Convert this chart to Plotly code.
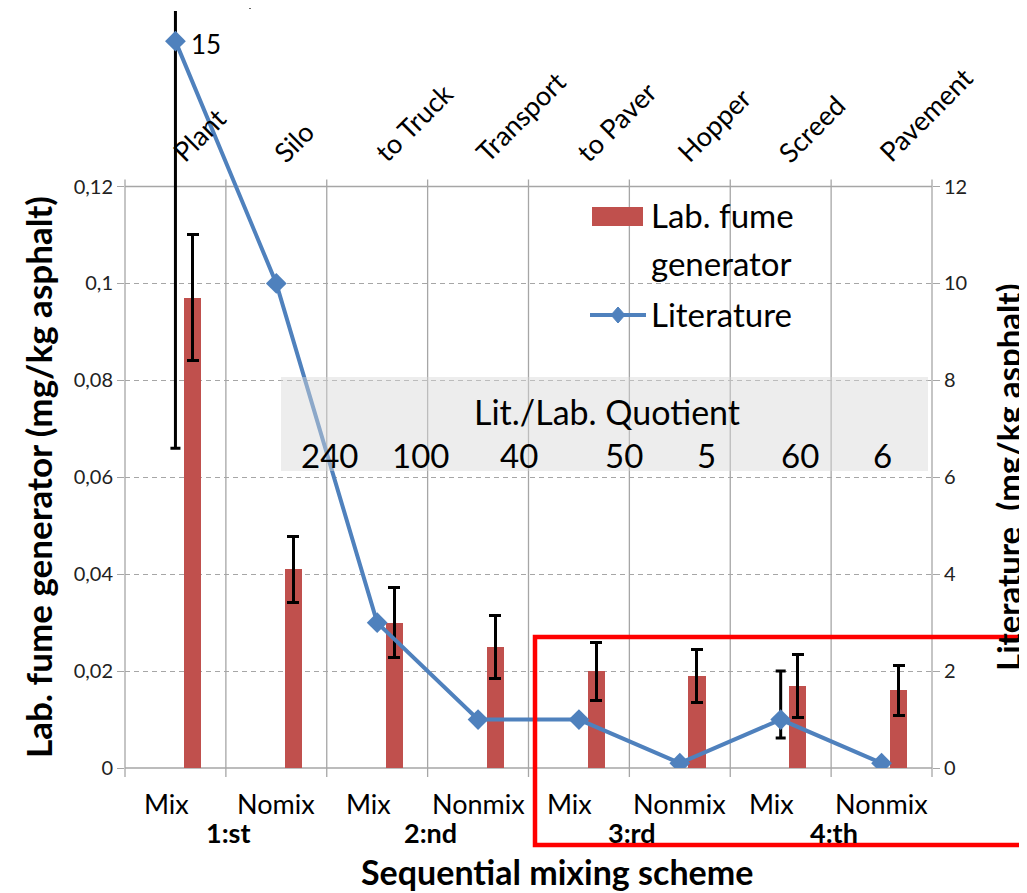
import plotly.graph_objects as go

# ---------------- data ----------------
stages = ["Plant", "Silo", "to Truck", "Transport", "to Paver", "Hopper", "Screed", "Pavement"]
mix_labels = ["Mix", "Nomix", "Mix", "Nonmix", "Mix", "Nonmix", "Mix", "Nonmix"]
round_labels = ["1:st", "2:nd", "3:rd", "4:th"]
lab_values = [0.097, 0.041, 0.030, 0.025, 0.020, 0.019, 0.017, 0.016]
lab_err = [0.013, 0.0068, 0.0072, 0.0065, 0.0060, 0.0054, 0.0065, 0.0052]
lit_values = [15, 10, 3, 1, 1, 0.1, 1, 0.1]
lit_err_idx = [0, 6]
lit_err_plus = [8.4, 1.0]
lit_err_minus = [8.4, 0.38]
quotients = [240, 100, 40, 50, 5, 60, 6]
left_ticks = [0, 0.02, 0.04, 0.06, 0.08, 0.10, 0.12]
left_ticktext = ["0", "0,02", "0,04", "0,06", "0,08", "0,1", "0,12"]
right_ticks = [0, 2, 4, 6, 8, 10, 12]

# ---------------- layout geometry (reference pixels) ----------------
W, H = 1027, 893
OX, OY = 8, 8          # page body margin offset
PL, PR, PT, PB = 125, 932, 11, 768
Y12_PX = 186.5
RIGHT_TOP = 12 * (PB - PT) / (PB - Y12_PX)
LEFT_TOP = 0.12 * (PB - PT) / (PB - Y12_PX)
N = len(stages)

def px_x(px):
    return (px - PL) / (PR - PL)

def px_y(py):
    return (PB - py) / (PB - PT)

FONT = "Lato"
BLUE = "#4F81BD"
RED_BAR = "#C0504D"
GRID = "#a6a6a6"

fig = go.Figure()

fig.add_trace(go.Bar(
    x=list(range(N)), y=lab_values, width=0.17, offset=0.085,
    marker=dict(color=RED_BAR, line=dict(width=0)),
    error_y=dict(type="data", array=lab_err, color="black", thickness=3, width=6),
    yaxis="y", showlegend=False, name="Lab. fume generator"))

fig.add_trace(go.Scatter(
    x=lit_err_idx, y=[lit_values[i] for i in lit_err_idx], yaxis="y2", mode="markers",
    marker=dict(size=1, opacity=0),
    error_y=dict(type="data", symmetric=False, array=lit_err_plus, arrayminus=lit_err_minus,
                 color="black", thickness=3, width=5),
    showlegend=False, hoverinfo="skip"))

fig.add_trace(go.Scatter(
    x=list(range(N)), y=lit_values, yaxis="y2", mode="lines+markers",
    line=dict(color=BLUE, width=4),
    marker=dict(symbol="diamond", size=16, color=BLUE),
    showlegend=False, name="Literature"))

shapes = []
y_top = 0.12 / LEFT_TOP
for b in range(N + 1):
    xb = b / N
    shapes.append(dict(type="line", xref="paper", yref="paper", x0=xb, x1=xb,
                       y0=px_y(PB + 9), y1=y_top + 7 / (PB - PT),
                       line=dict(color=GRID, width=1.3), layer="below"))
for yy in [0, y_top]:
    shapes.append(dict(type="line", xref="paper", yref="paper", x0=0, x1=1, y0=yy, y1=yy,
                       line=dict(color=GRID, width=1.3), layer="below"))

# quotient box (semi-transparent)
shapes.append(dict(type="rect", xref="paper", yref="paper",
                   x0=px_x(281), x1=px_x(928), y0=px_y(471), y1=px_y(377),
                   fillcolor="rgba(215,215,215,0.45)", line=dict(width=0), layer="above"))

# legend symbols
shapes.append(dict(type="rect", xref="paper", yref="paper",
                   x0=px_x(592), x1=px_x(643), y0=px_y(226), y1=px_y(207),
                   fillcolor=RED_BAR, line=dict(width=0), layer="above"))
shapes.append(dict(type="line", xref="paper", yref="paper",
                   x0=px_x(590), x1=px_x(646), y0=px_y(315), y1=px_y(315),
                   line=dict(color=BLUE, width=4), layer="above"))
cxp, cyp = 618, 315
dpath = "M {},{} L {},{} L {},{} L {},{} Z".format(
    px_x(cxp), px_y(cyp - 8), px_x(cxp + 7), px_y(cyp),
    px_x(cxp), px_y(cyp + 8), px_x(cxp - 7), px_y(cyp))
shapes.append(dict(type="path", xref="paper", yref="paper", path=dpath,
                   fillcolor=BLUE, line=dict(color=BLUE, width=1), layer="above"))

# red highlight rectangle
shapes.append(dict(type="rect", xref="paper", yref="paper",
                   x0=px_x(535), x1=px_x(1040), y0=px_y(845), y1=px_y(637),
                   line=dict(color="#FF0000", width=4.5), fillcolor="rgba(0,0,0,0)", layer="above"))
# small stray tick at top
shapes.append(dict(type="line", xref="paper", yref="paper",
                   x0=px_x(250), x1=px_x(250), y0=px_y(4), y1=px_y(9),
                   line=dict(color="#333333", width=1.5), layer="above"))

ann = []
txt = dict(family=FONT, color="black")
for i, s in enumerate(stages):
    ann.append(dict(text=s, x=i - 0.12, xref="x", y=px_y(171), yref="paper",
                    textangle=-45, xanchor="left", yanchor="bottom", showarrow=False,
                    font=dict(size=27, **txt)))
for i, s in enumerate(mix_labels):
    ann.append(dict(text=s, x=i, xref="x", y=px_y(804), yref="paper",
                    xanchor="center", yanchor="middle", showarrow=False,
                    xshift=-9 if s == "Mix" else 0,
                    font=dict(size=27, **txt)))
for k, s in enumerate(round_labels):
    ann.append(dict(text=s, x=2 * k + 0.5, xref="x", y=px_y(832), yref="paper",
                    xanchor="center", yanchor="middle", showarrow=False, xshift=3,
                    font=dict(size=27, weight="bold", **txt)))
ann.append(dict(text=str(lit_values[0]), x=0, xref="x", y=lit_values[0], yref="y2",
                xanchor="left", yanchor="middle", xshift=14, yshift=-3, showarrow=False,
                font=dict(size=26, **txt)))
ann.append(dict(text="Lit./Lab. Quotient", x=px_x(607), xref="paper", y=px_y(411), yref="paper",
                xanchor="center", yanchor="middle", showarrow=False, font=dict(size=34, **txt)))
q_pos_px = [329, 420, 519, 624, 706, 800, 882]
for q, p in zip(quotients, q_pos_px):
    ann.append(dict(text=str(q), x=px_x(p), xref="paper", y=px_y(455), yref="paper",
                    xanchor="center", yanchor="middle", showarrow=False, font=dict(size=33, **txt)))
for t, yy in [("Lab. fume", 215), ("generator", 263), ("Literature", 314)]:
    ann.append(dict(text=t, x=px_x(649), xref="paper", y=px_y(yy), yref="paper",
                    xanchor="left", yanchor="middle", showarrow=False, font=dict(size=33, **txt)))
ann.append(dict(text="Lab. fume generator (mg/kg asphalt)", x=px_x(38), xref="paper",
                y=px_y(477), yref="paper", textangle=-90, xanchor="center", yanchor="middle",
                showarrow=False, font=dict(size=35, weight="bold", **txt)))
ann.append(dict(text="Literature\u00a0 (mg/kg asphalt)", x=px_x(1008), xref="paper",
                y=px_y(477), yref="paper", textangle=-90, xanchor="center", yanchor="middle",
                showarrow=False, font=dict(size=33, weight="bold", **txt)))
ann.append(dict(text="Sequential mixing scheme", x=px_x(557), xref="paper",
                y=px_y(871), yref="paper", xanchor="center", yanchor="middle",
                showarrow=False, font=dict(size=34, weight="bold", **txt)))

fig.update_layout(
    width=W - OX, height=H - OY,
    margin=dict(l=PL - OX, r=W - PR, t=PT - OY, b=H - PB, pad=0),
    paper_bgcolor="white", plot_bgcolor="white",
    showlegend=False, bargap=0,
    xaxis=dict(range=[-0.5, N - 0.5], showgrid=False, zeroline=False, showline=False,
               showticklabels=False, ticks="", fixedrange=True),
    yaxis=dict(range=[0, LEFT_TOP], tickvals=left_ticks, ticktext=left_ticktext,
               showgrid=True, gridcolor=GRID, griddash="5px,4px", gridwidth=1.2,
               zeroline=False, showline=False, ticks="outside", ticklen=7, tickcolor=GRID,
               tickwidth=1.3, tickfont=dict(family=FONT, size=20, color="#222222")),
    yaxis2=dict(range=[0, RIGHT_TOP], tickvals=right_ticks, overlaying="y", side="right",
                showgrid=False, zeroline=False, showline=False, ticks="outside", ticklen=7,
                tickcolor=GRID, tickwidth=1.3,
                tickfont=dict(family=FONT, size=20, color="#222222")),
    shapes=shapes, annotations=ann,
)

fig.write_html("out.html")
